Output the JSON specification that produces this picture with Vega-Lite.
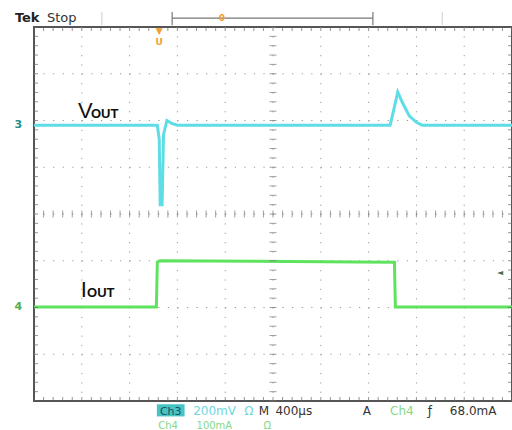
{
  "$schema": "https://vega.github.io/schema/vega-lite/v6.json",
  "width": 478,
  "height": 374,
  "autosize": "none",
  "padding": {"left": 34, "top": 27, "right": 0, "bottom": 29},
  "background": "white",
  "config": {
    "view": {"stroke": "#555555", "strokeWidth": 2},
    "text": {"font": "DejaVu Sans"}
  },
  "datasets": {
    "mx": [{"p":0},{"p":0.2},{"p":0.4},{"p":0.6},{"p":0.8},{"p":1},{"p":1.2},{"p":1.4},{"p":1.6},{"p":1.8},{"p":2},{"p":2.2},{"p":2.4},{"p":2.6},{"p":2.8},{"p":3},{"p":3.2},{"p":3.4},{"p":3.6},{"p":3.8},{"p":4},{"p":4.2},{"p":4.4},{"p":4.6},{"p":4.8},{"p":5},{"p":5.2},{"p":5.4},{"p":5.6},{"p":5.8},{"p":6},{"p":6.2},{"p":6.4},{"p":6.6},{"p":6.8},{"p":7},{"p":7.2},{"p":7.4},{"p":7.6},{"p":7.8},{"p":8},{"p":8.2},{"p":8.4},{"p":8.6},{"p":8.8},{"p":9},{"p":9.2},{"p":9.4},{"p":9.6},{"p":9.8},{"p":10}],
    "my": [{"p":0},{"p":0.2},{"p":0.4},{"p":0.6},{"p":0.8},{"p":1},{"p":1.2},{"p":1.4},{"p":1.6},{"p":1.8},{"p":2},{"p":2.2},{"p":2.4},{"p":2.6},{"p":2.8},{"p":3},{"p":3.2},{"p":3.4},{"p":3.6},{"p":3.8},{"p":4},{"p":4.2},{"p":4.4},{"p":4.6},{"p":4.8},{"p":5},{"p":5.2},{"p":5.4},{"p":5.6},{"p":5.8},{"p":6},{"p":6.2},{"p":6.4},{"p":6.6},{"p":6.8},{"p":7},{"p":7.2},{"p":7.4},{"p":7.6},{"p":7.8},{"p":8}],
    "traces": [
      {"s":"Vout","t":0,"v":5.9},{"s":"Vout","t":2.58,"v":5.9},{"s":"Vout","t":2.62,"v":5.6},{"s":"Vout","t":2.64,"v":4.2},{"s":"Vout","t":2.68,"v":4.2},{"s":"Vout","t":2.71,"v":5.7},{"s":"Vout","t":2.78,"v":6.0},{"s":"Vout","t":2.88,"v":5.94},{"s":"Vout","t":3.0,"v":5.9},{"s":"Vout","t":7.45,"v":5.9},{"s":"Vout","t":7.52,"v":6.2},{"s":"Vout","t":7.61,"v":6.61},{"s":"Vout","t":7.7,"v":6.4},{"s":"Vout","t":7.85,"v":6.1},{"s":"Vout","t":8.0,"v":5.96},{"s":"Vout","t":8.12,"v":5.9},{"s":"Vout","t":10,"v":5.9},
      {"s":"Iout","t":0,"v":2.01},{"s":"Iout","t":2.56,"v":2.01},{"s":"Iout","t":2.58,"v":2.97},{"s":"Iout","t":2.63,"v":3.0},{"s":"Iout","t":7.52,"v":2.97},{"s":"Iout","t":7.54,"v":2.97},{"s":"Iout","t":7.56,"v":2.01},{"s":"Iout","t":10,"v":2.01}
    ]
  },
  "layer": [
    {
      "data": {"values": [{"g":1},{"g":2},{"g":3},{"g":4},{"g":5},{"g":6},{"g":7},{"g":8},{"g":9}]},
      "mark": {"type": "rule", "color": "#999999", "strokeWidth": 1, "strokeDash": [1.2, 8.15]},
      "encoding": {
        "x": {"field": "g", "type": "quantitative", "scale": {"domain": [0, 10], "nice": false, "zero": false}, "axis": null},
        "y": {"datum": 8, "type": "quantitative", "scale": {"domain": [0, 8], "nice": false, "zero": false}, "axis": null},
        "y2": {"datum": 0}
      }
    },
    {
      "data": {"values": [{"g":1},{"g":2},{"g":3},{"g":4},{"g":5},{"g":6},{"g":7}]},
      "mark": {"type": "rule", "color": "#999999", "strokeWidth": 1, "strokeDash": [1.2, 8.36]},
      "encoding": {
        "y": {"field": "g", "type": "quantitative", "axis": null},
        "x": {"datum": 0, "type": "quantitative", "axis": null},
        "x2": {"datum": 10}
      }
    },
    {
      "data": {"name": "traces"},
      "mark": {"type": "line", "strokeWidth": 3, "interpolate": "linear"},
      "encoding": {
        "x": {"field": "t", "type": "quantitative", "axis": null},
        "y": {"field": "v", "type": "quantitative", "axis": null},
        "color": {"field": "s", "type": "nominal", "scale": {"domain": ["Vout", "Iout"], "range": ["#5fdde6", "#5ee35e"]}, "legend": null},
        "detail": {"field": "s"}
      }
    },
    {
      "data": {"name": "mx"},
      "mark": {"type": "tick", "orient": "vertical", "size": 8, "thickness": 1, "color": "#666666", "clip": true},
      "encoding": {"x": {"field": "p", "type": "quantitative", "axis": null}, "y": {"datum": 0, "axis": null}}
    },
    {
      "data": {"name": "mx"},
      "mark": {"type": "tick", "orient": "vertical", "size": 8, "thickness": 1, "color": "#666666", "clip": true},
      "encoding": {"x": {"field": "p", "type": "quantitative", "axis": null}, "y": {"datum": 8, "axis": null}}
    },
    {
      "data": {"name": "mx"},
      "mark": {"type": "tick", "orient": "vertical", "size": 7, "thickness": 1, "color": "#777777"},
      "encoding": {"x": {"field": "p", "type": "quantitative", "axis": null}, "y": {"datum": 4, "axis": null}}
    },
    {
      "data": {"name": "my"},
      "mark": {"type": "tick", "orient": "horizontal", "size": 8, "thickness": 1, "color": "#666666", "clip": true},
      "encoding": {"y": {"field": "p", "type": "quantitative", "axis": null}, "x": {"datum": 0, "axis": null}}
    },
    {
      "data": {"name": "my"},
      "mark": {"type": "tick", "orient": "horizontal", "size": 8, "thickness": 1, "color": "#666666", "clip": true},
      "encoding": {"y": {"field": "p", "type": "quantitative", "axis": null}, "x": {"datum": 10, "axis": null}}
    },
    {
      "data": {"name": "my"},
      "mark": {"type": "tick", "orient": "horizontal", "size": 7, "thickness": 1, "color": "#777777"},
      "encoding": {"y": {"field": "p", "type": "quantitative", "axis": null}, "x": {"datum": 5, "axis": null}}
    },
    {
      "data": {"values": [{"x": 2.89, "x2": 7.09, "y": 8.19, "y2": 8.19}, {"x": 2.89, "x2": 2.89, "y": 8.04, "y2": 8.32}, {"x": 7.09, "x2": 7.09, "y": 8.04, "y2": 8.32}]},
      "mark": {"type": "rule", "color": "#777777", "strokeWidth": 1.2},
      "encoding": {"x": {"field": "x", "type": "quantitative", "axis": null}, "x2": {"field": "x2"}, "y": {"field": "y", "type": "quantitative", "axis": null}, "y2": {"field": "y2"}}
    },
    {
      "data": {"values": [{"x": 1.42, "y": 8.04, "y2": 8.32}, {"x": 8.54, "y": 8.04, "y2": 8.32}]},
      "mark": {"type": "rule", "color": "#cccccc", "strokeWidth": 1},
      "encoding": {"x": {"field": "x", "type": "quantitative", "axis": null}, "y": {"field": "y", "type": "quantitative", "axis": null}, "y2": {"field": "y2"}}
    },
    {
      "data": {"values": [{"x": 2.57, "x2": 3.15, "y": -0.07, "y2": -0.33}]},
      "mark": {"type": "rect", "color": "#46c4c4"},
      "encoding": {"x": {"field": "x", "type": "quantitative", "axis": null}, "x2": {"field": "x2"}, "y": {"field": "y", "type": "quantitative", "axis": null}, "y2": {"field": "y2"}}
    },
    {
      "data": {"values": [{"x": 2.86, "y": -0.29, "label": "Ch3"}]},
      "mark": {"type": "text", "align": "center", "baseline": "alphabetic", "fontSize": 11, "color": "#1c4d5a"},
      "encoding": {"x": {"field": "x", "type": "quantitative", "axis": null}, "y": {"field": "y", "type": "quantitative", "axis": null}, "text": {"field": "label"}}
    },
    {
      "data": {"values": [{"x": 4.7, "y": -0.29, "label": "M"}, {"x": 5.05, "y": -0.29, "label": "400µs"}, {"x": 6.88, "y": -0.29, "label": "A"}, {"x": 8.24, "y": -0.29, "label": "ƒ"}, {"x": 8.7, "y": -0.29, "label": "68.0mA"}]},
      "mark": {"type": "text", "align": "left", "baseline": "alphabetic", "fontSize": 12, "color": "#333333"},
      "encoding": {"x": {"field": "x", "type": "quantitative", "axis": null}, "y": {"field": "y", "type": "quantitative", "axis": null}, "text": {"field": "label"}}
    },
    {
      "data": {"values": [{"x": 0.27, "y": 8.11, "label": "Stop"}]},
      "mark": {"type": "text", "align": "left", "baseline": "alphabetic", "fontSize": 13, "color": "#333333"},
      "encoding": {"x": {"field": "x", "type": "quantitative", "axis": null}, "y": {"field": "y", "type": "quantitative", "axis": null}, "text": {"field": "label"}}
    },
    {
      "data": {"values": [{"x": -0.4, "y": 8.11, "label": "Tek"}]},
      "mark": {"type": "text", "align": "left", "baseline": "alphabetic", "fontSize": 13, "fontWeight": "bold", "color": "#222222"},
      "encoding": {"x": {"field": "x", "type": "quantitative", "axis": null}, "y": {"field": "y", "type": "quantitative", "axis": null}, "text": {"field": "label"}}
    },
    {
      "data": {"values": [{"x": 3.33, "y": -0.29, "label": "200mV"}, {"x": 4.4, "y": -0.29, "label": "Ω"}]},
      "mark": {"type": "text", "align": "left", "baseline": "alphabetic", "fontSize": 12, "color": "#6fd6dc"},
      "encoding": {"x": {"field": "x", "type": "quantitative", "axis": null}, "y": {"field": "y", "type": "quantitative", "axis": null}, "text": {"field": "label"}}
    },
    {
      "data": {"values": [{"x": 7.45, "y": -0.29, "label": "Ch4"}]},
      "mark": {"type": "text", "align": "left", "baseline": "alphabetic", "fontSize": 12, "color": "#86d886"},
      "encoding": {"x": {"field": "x", "type": "quantitative", "axis": null}, "y": {"field": "y", "type": "quantitative", "axis": null}, "text": {"field": "label"}}
    },
    {
      "data": {"values": [{"x": 2.6, "y": -0.6, "label": "Ch4"}, {"x": 3.4, "y": -0.6, "label": "100mA"}, {"x": 4.8, "y": -0.6, "label": "Ω"}]},
      "mark": {"type": "text", "align": "left", "baseline": "alphabetic", "fontSize": 10, "color": "#86d886"},
      "encoding": {"x": {"field": "x", "type": "quantitative", "axis": null}, "y": {"field": "y", "type": "quantitative", "axis": null}, "text": {"field": "label"}}
    },
    {
      "data": {"values": [{"x": 0.92, "y": 6.06, "label": "V"}, {"x": 0.98, "y": 2.22, "label": "I"}]},
      "mark": {"type": "text", "align": "left", "baseline": "alphabetic", "fontSize": 22, "font": "Liberation Sans", "color": "#111111"},
      "encoding": {"x": {"field": "x", "type": "quantitative", "axis": null}, "y": {"field": "y", "type": "quantitative", "axis": null}, "text": {"field": "label"}}
    },
    {
      "data": {"values": [{"x": 1.19, "y": 6.06, "label": "OUT"}, {"x": 1.11, "y": 2.22, "label": "OUT"}]},
      "mark": {"type": "text", "align": "left", "baseline": "alphabetic", "fontSize": 13, "fontWeight": "bold", "font": "Liberation Sans", "color": "#111111"},
      "encoding": {"x": {"field": "x", "type": "quantitative", "axis": null}, "y": {"field": "y", "type": "quantitative", "axis": null}, "text": {"field": "label"}}
    },
    {
      "data": {"values": [{"x": -0.33, "y": 5.9, "label": "3"}]},
      "mark": {"type": "text", "align": "center", "baseline": "middle", "fontSize": 11, "fontWeight": "bold", "color": "#1f8f8f"},
      "encoding": {"x": {"field": "x", "type": "quantitative", "axis": null}, "y": {"field": "y", "type": "quantitative", "axis": null}, "text": {"field": "label"}}
    },
    {
      "data": {"values": [{"x": -0.33, "y": 2.01, "label": "4"}]},
      "mark": {"type": "text", "align": "center", "baseline": "middle", "fontSize": 11, "fontWeight": "bold", "color": "#4fb04f"},
      "encoding": {"x": {"field": "x", "type": "quantitative", "axis": null}, "y": {"field": "y", "type": "quantitative", "axis": null}, "text": {"field": "label"}}
    },
    {
      "data": {"values": [{"x": 2.62, "y": 7.92, "label": "▼"}, {"x": 2.62, "y": 7.68, "label": "U"}, {"x": 3.93, "y": 8.19, "label": "0"}]},
      "mark": {"type": "text", "align": "center", "baseline": "middle", "fontSize": 9, "fontWeight": "bold", "color": "#f0a030"},
      "encoding": {"x": {"field": "x", "type": "quantitative", "axis": null}, "y": {"field": "y", "type": "quantitative", "axis": null}, "text": {"field": "label"}}
    },
    {
      "data": {"values": [{"x": 9.75, "y": 2.74, "label": "◄"}]},
      "mark": {"type": "text", "align": "center", "baseline": "middle", "fontSize": 8, "color": "#4a6a4a"},
      "encoding": {"x": {"field": "x", "type": "quantitative", "axis": null}, "y": {"field": "y", "type": "quantitative", "axis": null}, "text": {"field": "label"}}
    }
  ]
}
